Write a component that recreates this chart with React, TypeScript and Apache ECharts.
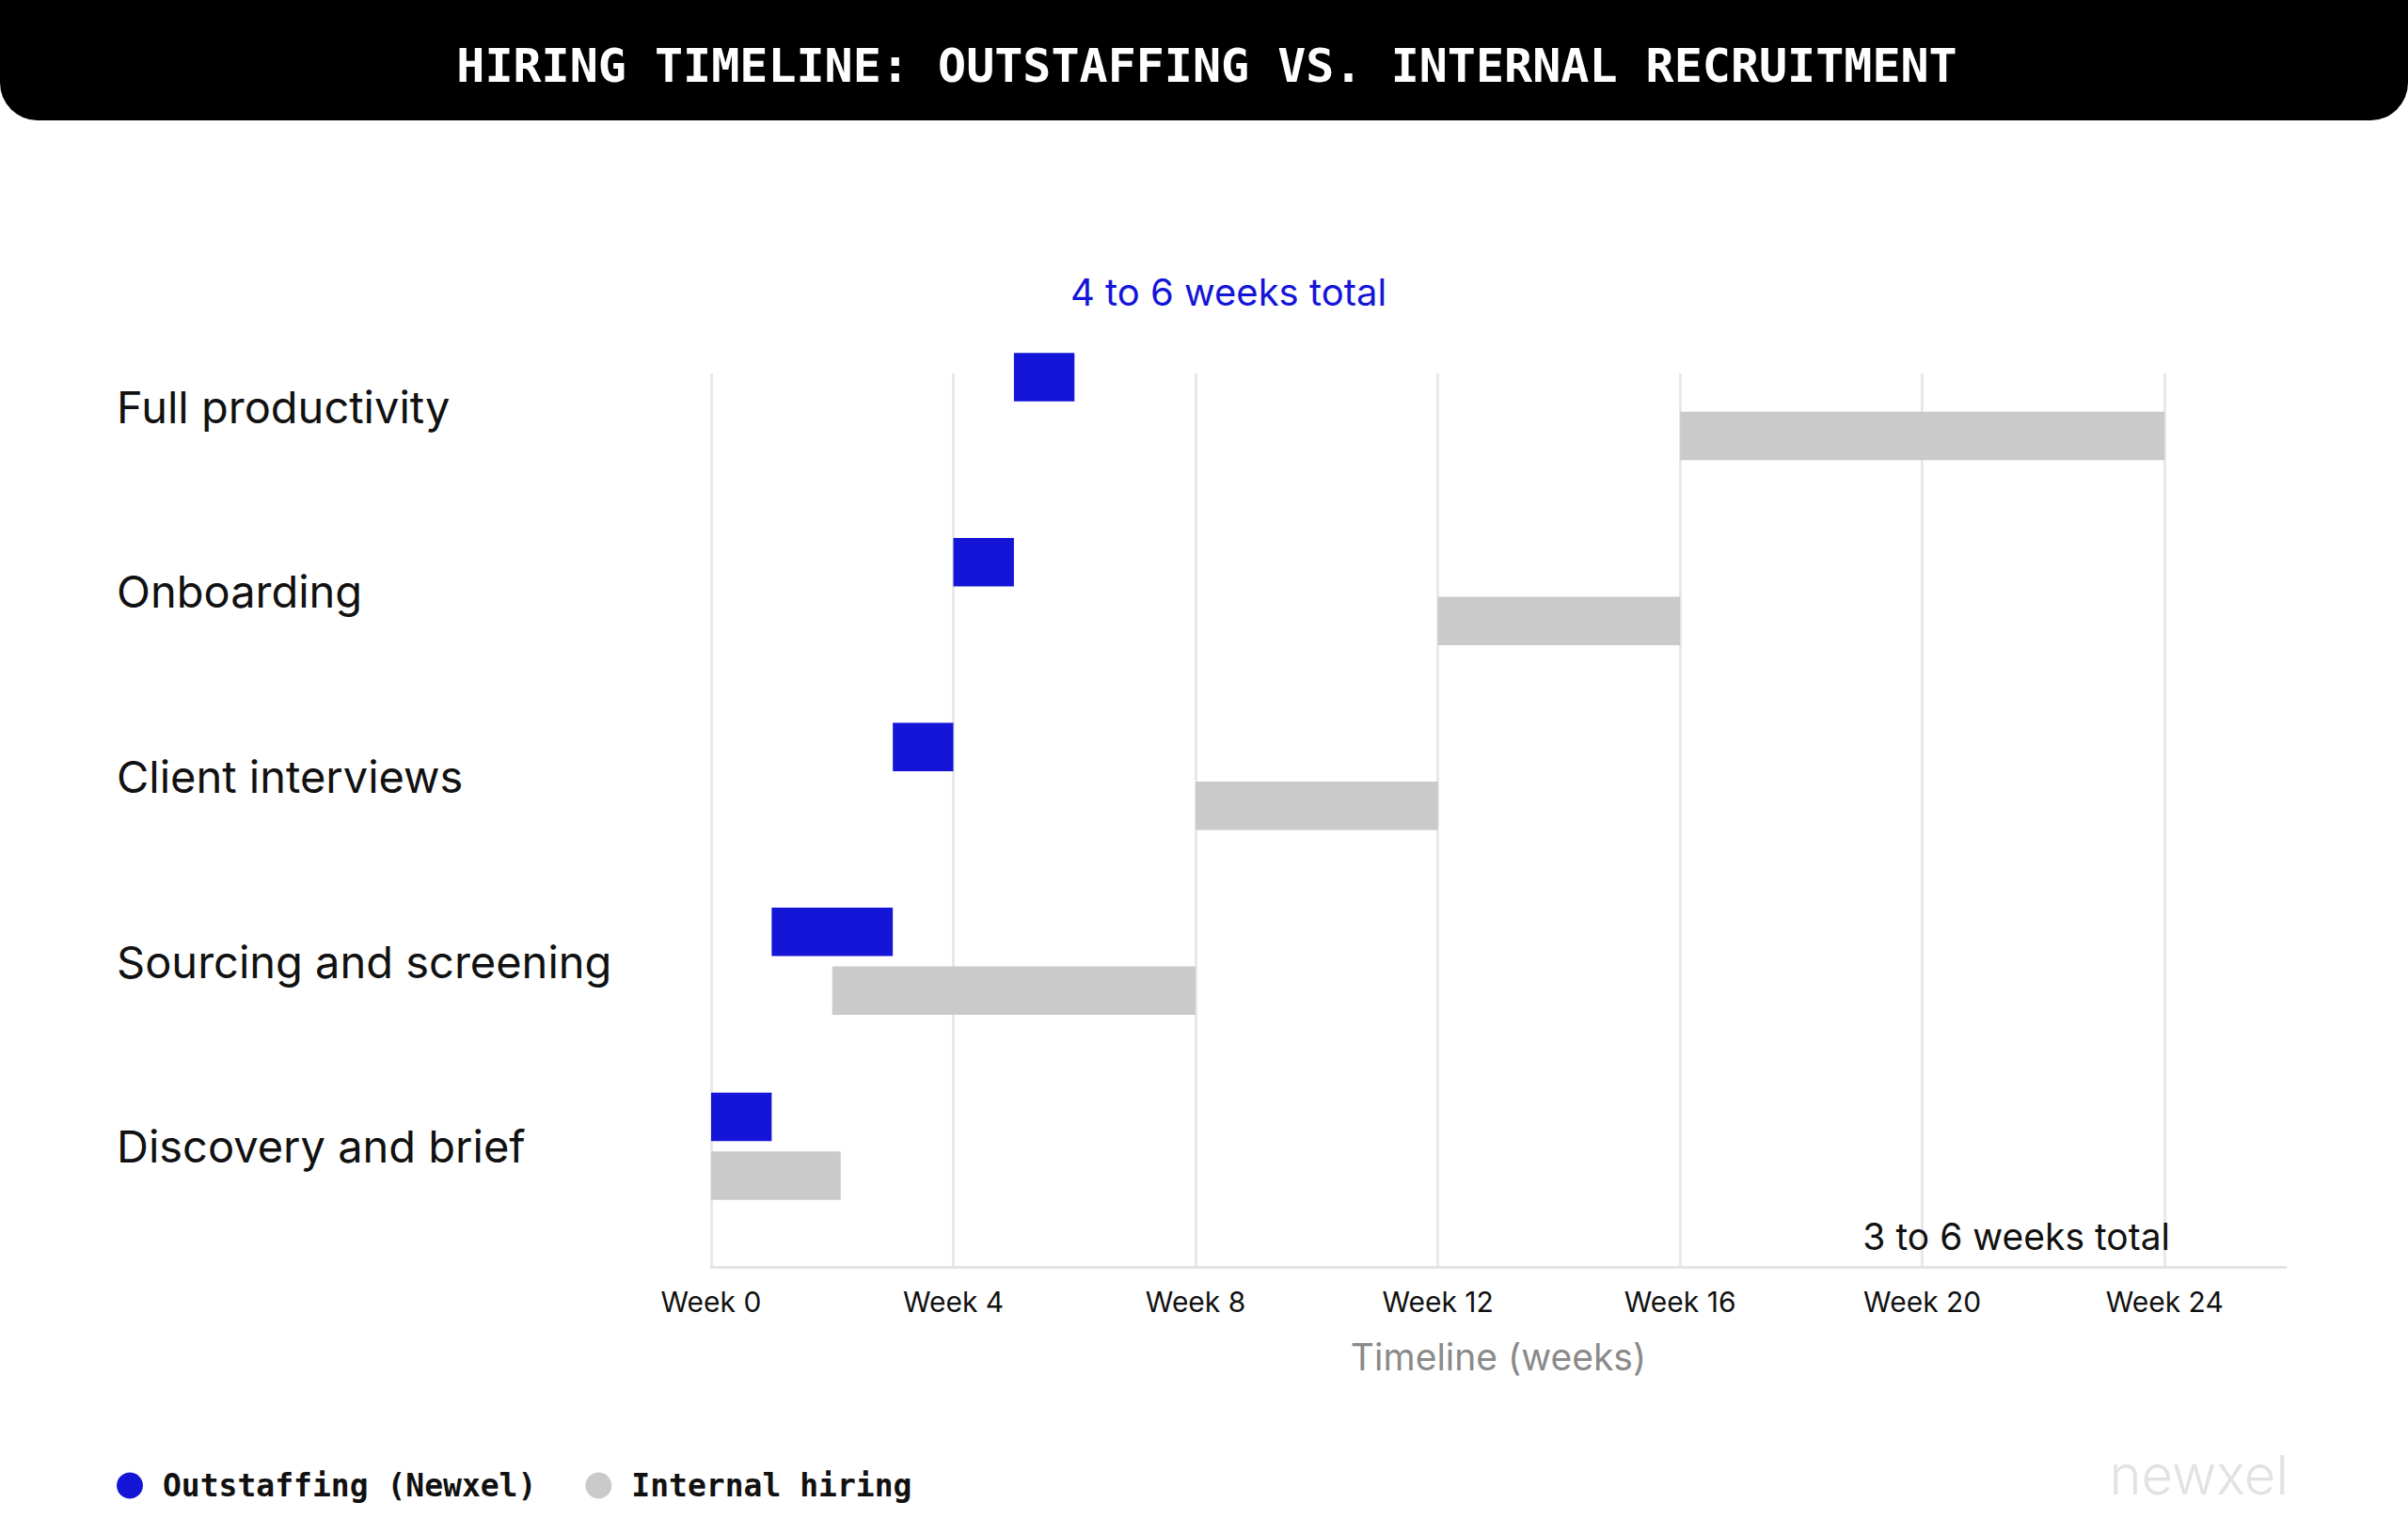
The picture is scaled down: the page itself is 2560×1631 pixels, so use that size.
import React, { useEffect, useRef } from 'react';
import * as echarts from 'echarts';

// ---- data ----
const stages = ['Discovery and brief', 'Sourcing and screening', 'Client interviews', 'Onboarding', 'Full productivity'];
const outStart = [0, 1, 3, 4, 5];
const outEnd = [1, 3, 4, 5, 6];
const intStart = [0, 2, 8, 12, 16];
const intEnd = [2.14, 8, 12, 16, 24];
const weekTicks = [0, 4, 8, 12, 16, 20, 24];
const seriesNames = ['Outstaffing (Newxel)', 'Internal hiring'];
const titleText = 'HIRING TIMELINE: OUTSTAFFING VS. INTERNAL RECRUITMENT';
const outNote = '4 to 6 weeks total';
const intNote = '3 to 6 weeks total';
const axisTitle = 'Timeline (weeks)';
const logoText = 'newxel';

const BLUE = '#1515d8';
const GRAY = '#cacaca';

const makeRender = (side: number, color: string) => (params: any, api: any) => {
  const cat = api.value(0);
  const a = api.coord([api.value(1), cat]);
  const b = api.coord([api.value(2), cat]);
  const band = api.size([0, 1])[1];
  const h = band * 0.262;
  const gap = band * 0.028;
  const y = side < 0 ? a[1] - gap - h : a[1] + gap;
  return {
    type: 'rect',
    shape: { x: a[0], y, width: b[0] - a[0], height: h },
    style: { fill: color },
  };
};

export default function App() {
  const ref = useRef<HTMLDivElement>(null);
  useEffect(() => {
    if (!ref.current) return;
    const chart = echarts.init(ref.current, undefined, { renderer: 'svg' });
    const outData = stages.map((_, i) => [i, outStart[i], outEnd[i]]);
    const intData = stages.map((_, i) => [i, intStart[i], intEnd[i]]);
    chart.setOption({
      animation: false,
      backgroundColor: '#ffffff',
      grid: [
        { left: 756, right: 130, top: 397, bottom: 284 },
        { left: 756, right: 130, top: 334, bottom: 314 },
      ],
      xAxis: [
        {
          type: 'value', gridIndex: 0, min: 0, max: 26, interval: 4,
          axisLine: { show: true, lineStyle: { color: '#e4e4e4', width: 3 } },
          axisTick: { show: false },
          splitLine: { show: true, showMaxLine: false, lineStyle: { color: '#e8e8e8', width: 3 } },
          axisLabel: {
            margin: 22,
            color: '#111111',
            fontFamily: 'Inter',
            fontSize: 30,
            showMaxLabel: false,
            formatter: (v: number) => (weekTicks.includes(v) ? `Week ${v}` : ''),
          },
          name: axisTitle,
          nameLocation: 'middle',
          nameGap: 76,
          nameTextStyle: { color: '#8a8a8a', fontFamily: 'Inter', fontSize: 39 },
        },
        { type: 'value', gridIndex: 1, min: 0, max: 26, show: false },
      ],
      yAxis: [
        { type: 'value', gridIndex: 0, show: false },
        {
          type: 'category', gridIndex: 1, data: stages,
          axisLine: { show: false }, axisTick: { show: false }, splitLine: { show: false },
          axisLabel: { align: 'left', margin: 632, color: '#111111', fontFamily: 'Inter', fontSize: 47 },
        },
      ],
      legend: {
        data: seriesNames,
        left: 124,
        top: 1563,
        padding: 0,
        icon: 'circle',
        itemWidth: 28,
        itemHeight: 28,
        itemGap: 52,
        textStyle: { fontFamily: 'DejaVu Sans Mono', fontWeight: 'bold', fontSize: 33, color: '#111111', padding: [0, 0, 0, 16] },
      },
      series: [
        {
          name: seriesNames[0], type: 'custom', xAxisIndex: 1, yAxisIndex: 1,
          renderItem: makeRender(-1, BLUE), encode: { x: [1, 2], y: 0 }, data: outData,
          itemStyle: { color: BLUE }, clip: false,
        },
        {
          name: seriesNames[1], type: 'custom', xAxisIndex: 1, yAxisIndex: 1,
          renderItem: makeRender(1, GRAY), encode: { x: [1, 2], y: 0 }, data: intData,
          itemStyle: { color: GRAY }, clip: false,
        },
      ],
      graphic: [
        { type: 'rect', left: 0, top: 0, shape: { x: 0, y: 0, width: 2560, height: 128, r: [0, 0, 40, 40] }, style: { fill: '#000000' }, z: 10 },
        {
          type: 'text', x: 1283, y: 70, z: 11,
          style: { text: titleText, fill: '#ffffff', font: 'bold 50px "DejaVu Sans Mono"', textAlign: 'center', textVerticalAlign: 'middle', align: 'center', verticalAlign: 'middle' },
        },
        {
          type: 'text', x: 1306, y: 310, z: 11,
          style: { text: outNote, fill: BLUE, font: '400 40px Inter', textAlign: 'center', textVerticalAlign: 'middle', align: 'center', verticalAlign: 'middle' },
        },
        {
          type: 'text', x: 2307, y: 1314, z: 11,
          style: { text: intNote, fill: '#111111', font: '400 39px Inter', textAlign: 'right', textVerticalAlign: 'middle', align: 'right', verticalAlign: 'middle' },
        },
        {
          type: 'text', x: 2433, y: 1568, z: 11,
          style: { text: logoText, fill: '#e2e2e2', font: '300 58px Inter', textAlign: 'right', textVerticalAlign: 'middle', align: 'right', verticalAlign: 'middle' },
        },
      ],
    });
    return () => chart.dispose();
  }, []);
  return <div ref={ref} style={{ position: 'fixed', left: 0, top: 0, width: 2560, height: 1631 }} />;
}
